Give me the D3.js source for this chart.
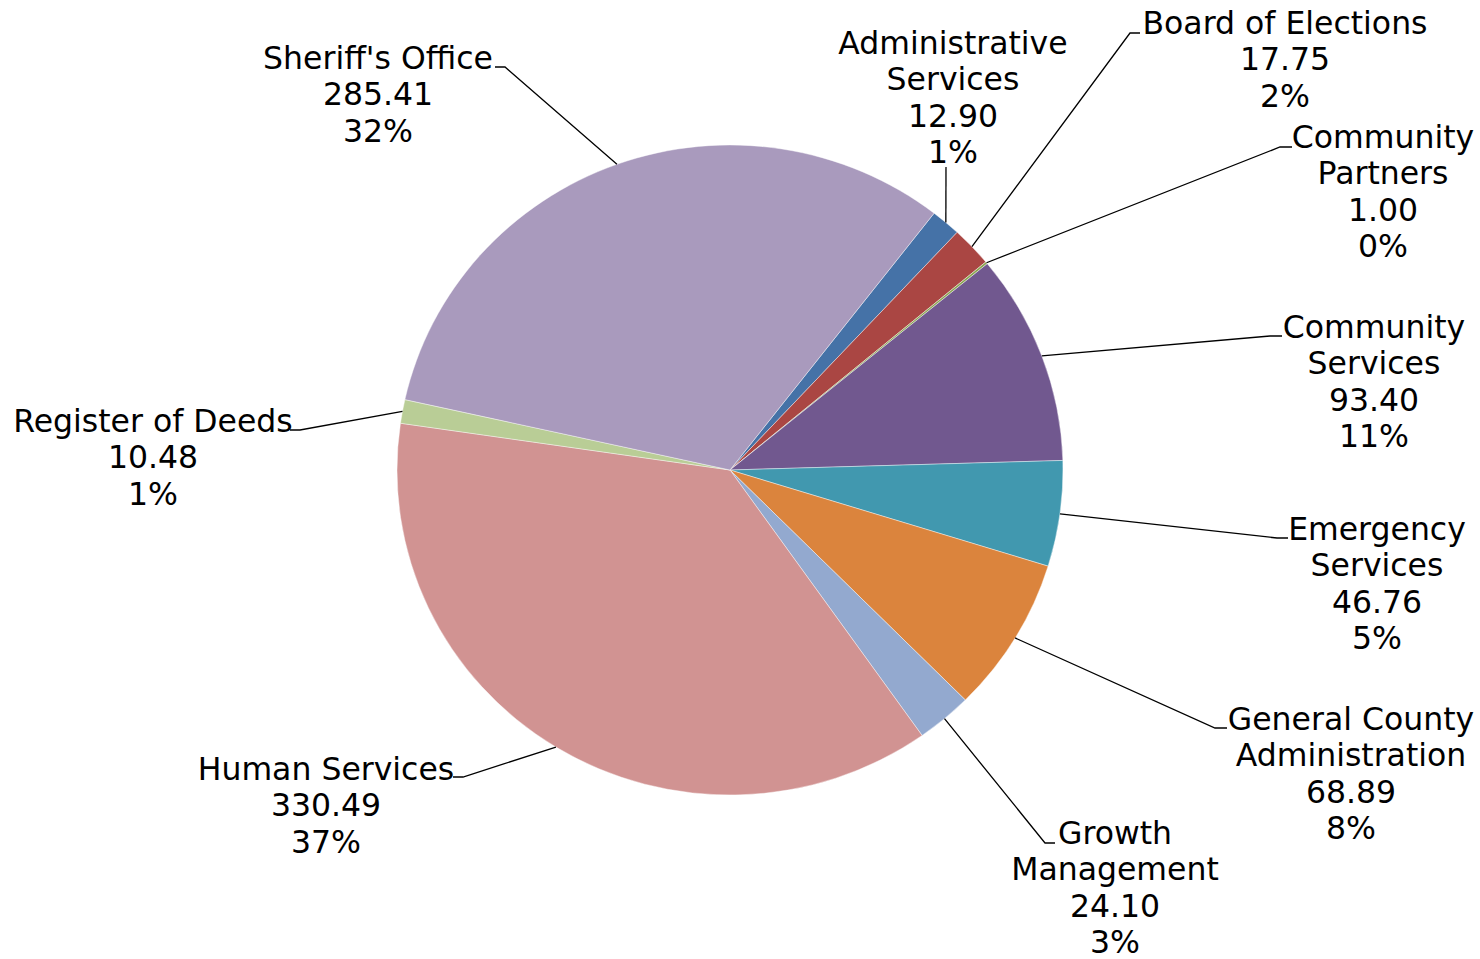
<!DOCTYPE html>
<html>
<head>
<meta charset="utf-8">
<script src="https://cdn.jsdelivr.net/npm/d3@7"></script>
<style>
  html, body { margin: 0; padding: 0; background: #fff; }
  svg { display: block; }
  text { font-family: "DejaVu Sans", Verdana, sans-serif; fill: #000; }
</style>
</head>
<body>
<svg id="chart" width="1480" height="959"></svg>
<script>
// ---- data ----
const categories = [
  "Administrative Services", "Board of Elections", "Community Partners",
  "Community Services", "Emergency Services", "General County Administration",
  "Growth Management", "Human Services", "Register of Deeds", "Sheriff's Office"
];
const values = [12.90, 17.75, 1.00, 93.40, 46.76, 68.89, 24.10, 330.49, 10.48, 285.41];
const percentLabels = ["1%", "2%", "0%", "11%", "5%", "8%", "3%", "37%", "1%", "32%"];
const labelLines = [
  ["Administrative", "Services"],
  ["Board of Elections"],
  ["Community", "Partners"],
  ["Community", "Services"],
  ["Emergency", "Services"],
  ["General County", "Administration"],
  ["Growth", "Management"],
  ["Human Services"],
  ["Register of Deeds"],
  ["Sheriff's Office"]
];

// ---- styles & layout ----
const colors = ["#4572A7", "#AA4643", "#89A54E", "#71588F", "#4198AF",
                "#DB843D", "#93A9CF", "#D19392", "#B9CD96", "#A99ABD"];
// label block centre x and y of first line
const labelPos = [
  [953, 43], [1285, 23], [1383, 137], [1374, 327], [1377, 529],
  [1351, 719], [1115, 833], [326, 769], [153, 421], [378, 58]
];
// leader line: elbow point and end point (near text)
const leaderElbow = [
  [946, 167], [1130, 33], [1280, 147], [1270, 336], [1277, 538],
  [1215, 728], [1045, 843], [463, 777], [300, 430], [505, 67]
];
const leaderEnd = [
  null, [1140, 33], [1292, 147], [1282, 336], [1288, 538],
  [1227, 728], [1055, 843], [453, 777], [290, 430], [495, 67]
];

const cx = 730, cy = 470, Rx = 333, Ry = 325;
const startDeg = 37.8;
const fontSize = 31.5, lineH = 36.4;

const svg = d3.select("#chart");
const g = svg.append("g")
  .attr("transform", `translate(${cx},${cy}) scale(1,${Ry / Rx})`);

const pie = d3.pie().sort(null).value(d => d)
  .startAngle(startDeg * Math.PI / 180)
  .endAngle(startDeg * Math.PI / 180 + 2 * Math.PI);
const arcs = pie(values);
const arc = d3.arc().innerRadius(0).outerRadius(Rx);

g.selectAll("path.slice").data(arcs).enter().append("path")
  .attr("class", "slice")
  .attr("d", arc)
  .attr("fill", (d, i) => colors[i])
  .attr("stroke", "#ffffff")
  .attr("stroke-width", 0.6)
  .attr("stroke-opacity", 0.7);

// leader lines
const leaders = svg.append("g");
arcs.forEach((a, i) => {
  const mid = (a.startAngle + a.endAngle) / 2;
  const ax = cx + Rx * Math.sin(mid), ay = cy - Ry * Math.cos(mid);
  const pts = [[ax, ay], leaderElbow[i]];
  if (leaderEnd[i]) pts.push(leaderEnd[i]);
  leaders.append("path")
    .attr("d", d3.line()(pts))
    .attr("fill", "none")
    .attr("stroke", "#000")
    .attr("stroke-width", 1.3);
});

// labels
const labels = svg.append("g");
arcs.forEach((a, i) => {
  const lines = labelLines[i].concat([d3.format(".2f")(values[i]), percentLabels[i]]);
  const t = labels.append("text")
    .attr("text-anchor", "middle")
    .attr("font-size", fontSize);
  lines.forEach((ln, k) => {
    t.append("tspan")
      .attr("x", labelPos[i][0])
      .attr("y", labelPos[i][1] + k * lineH)
      .attr("dy", "0.35em")
      .text(ln);
  });
});
</script>
</body>
</html>
